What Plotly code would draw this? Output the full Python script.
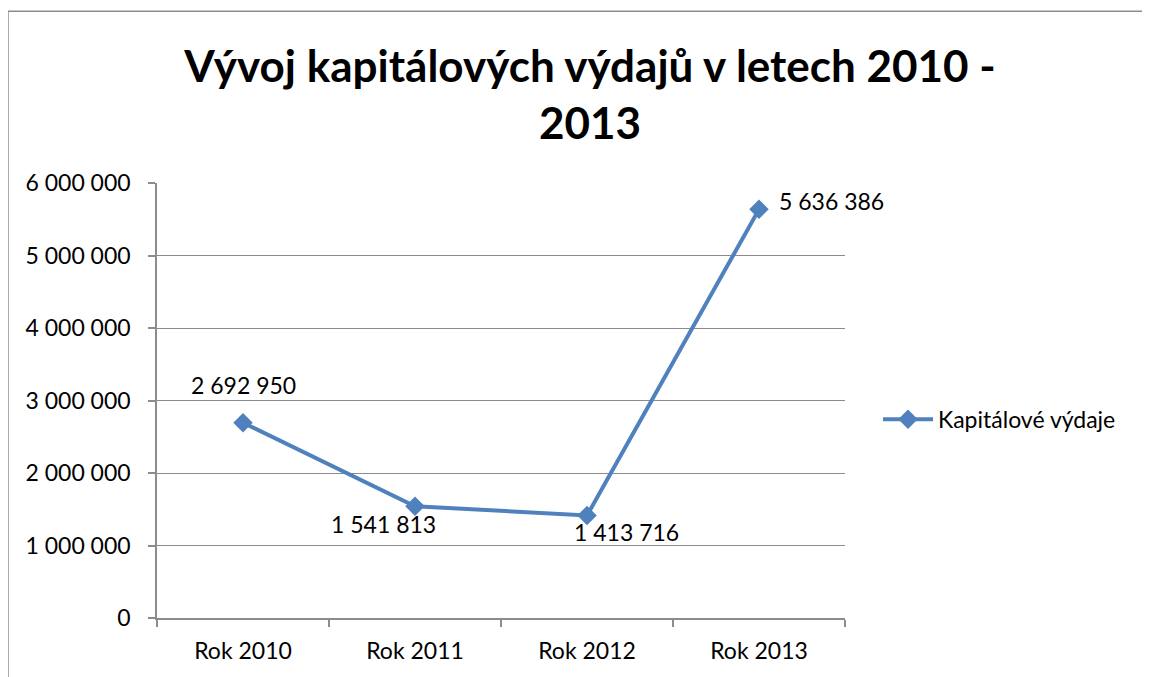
import plotly.graph_objects as go

# Data
years = ['Rok 2010', 'Rok 2011', 'Rok 2012', 'Rok 2013']
vydaje = [2692950, 1541813, 1413716, 5636386]
series_name = 'Kapitálové výdaje'
y_ticks = [0, 1000000, 2000000, 3000000, 4000000, 5000000, 6000000]

blue = '#4F81BD'
grid = '#8C8C8C'
font = 'Lato, Calibri, sans-serif'

x = list(range(len(years)))

fig = go.Figure()
fig.add_trace(go.Scatter(
    x=x, y=vydaje,
    mode='lines+markers',
    name=series_name,
    line=dict(color=blue, width=4),
    marker=dict(symbol='diamond', size=15, color=blue),
))

# data labels, placed like the Excel defaults
label_shift = [(0, 38), (-32, -18), (39, -16), (72, 8)]
for xi, v, (dx, dy) in zip(x, vydaje, label_shift):
    fig.add_annotation(
        x=xi, y=v, text=f'{v:,}'.replace(',', ' '),
        showarrow=False, xshift=dx, yshift=dy,
        font=dict(family=font, size=23, color='black'),
    )

# outer chart frame (only left and top edges are visible)
fig.add_shape(type='line', xref='paper', yref='paper',
              x0=-0.2166, x1=-0.2166, y0=-0.3, y1=1.395,
              line=dict(color='#8C8C8C', width=1.5), layer='below')
fig.add_shape(type='line', xref='paper', yref='paper',
              x0=-0.2166, x1=1.6, y0=1.395, y1=1.395,
              line=dict(color='#8C8C8C', width=1.5), layer='below')

# page body has an 8px margin, so the figure is 8px smaller to avoid scrollbars
fig.update_layout(
    width=1142, height=669,
    margin=dict(l=149, r=305, t=175, b=59),
    plot_bgcolor='white', paper_bgcolor='white',
    separators=', ',
    title=dict(
        text='<b>Vývoj kapitálových výdajů v letech 2010 -<br>2013</b>',
        x=582 / 1142, xanchor='center', y=1 - 74 / 669, yanchor='top',
        font=dict(family=font, size=44, color='black'),
    ),
    xaxis=dict(
        range=[-0.5, 3.5], tickvals=x, ticktext=years,
        ticks='', showgrid=False, zeroline=False,
        showline=True, linecolor=grid, linewidth=1.5,
        minor=dict(tick0=-0.5, dtick=1, ticks='outside', ticklen=7,
                   tickcolor=grid, tickwidth=1.5, showgrid=False),
        tickfont=dict(family=font, size=23, color='black'),
        ticklabelstandoff=12,
        fixedrange=True,
    ),
    yaxis=dict(
        range=[0, 6000000], tickvals=y_ticks, tickformat=',d',
        ticks='outside', ticklen=7, tickcolor=grid, tickwidth=1.5,
        showgrid=True, gridcolor=grid, gridwidth=1.2,
        zeroline=False, showline=True, linecolor=grid, linewidth=1.5,
        tickfont=dict(family=font, size=23, color='black'),
        ticklabelstandoff=13,
        fixedrange=True,
    ),
    showlegend=True,
    legend=dict(x=1.048, y=0.457, xanchor='left', yanchor='middle',
                font=dict(family=font, size=23, color='black'),
                itemwidth=50),
)

fig.write_html('out.html')
